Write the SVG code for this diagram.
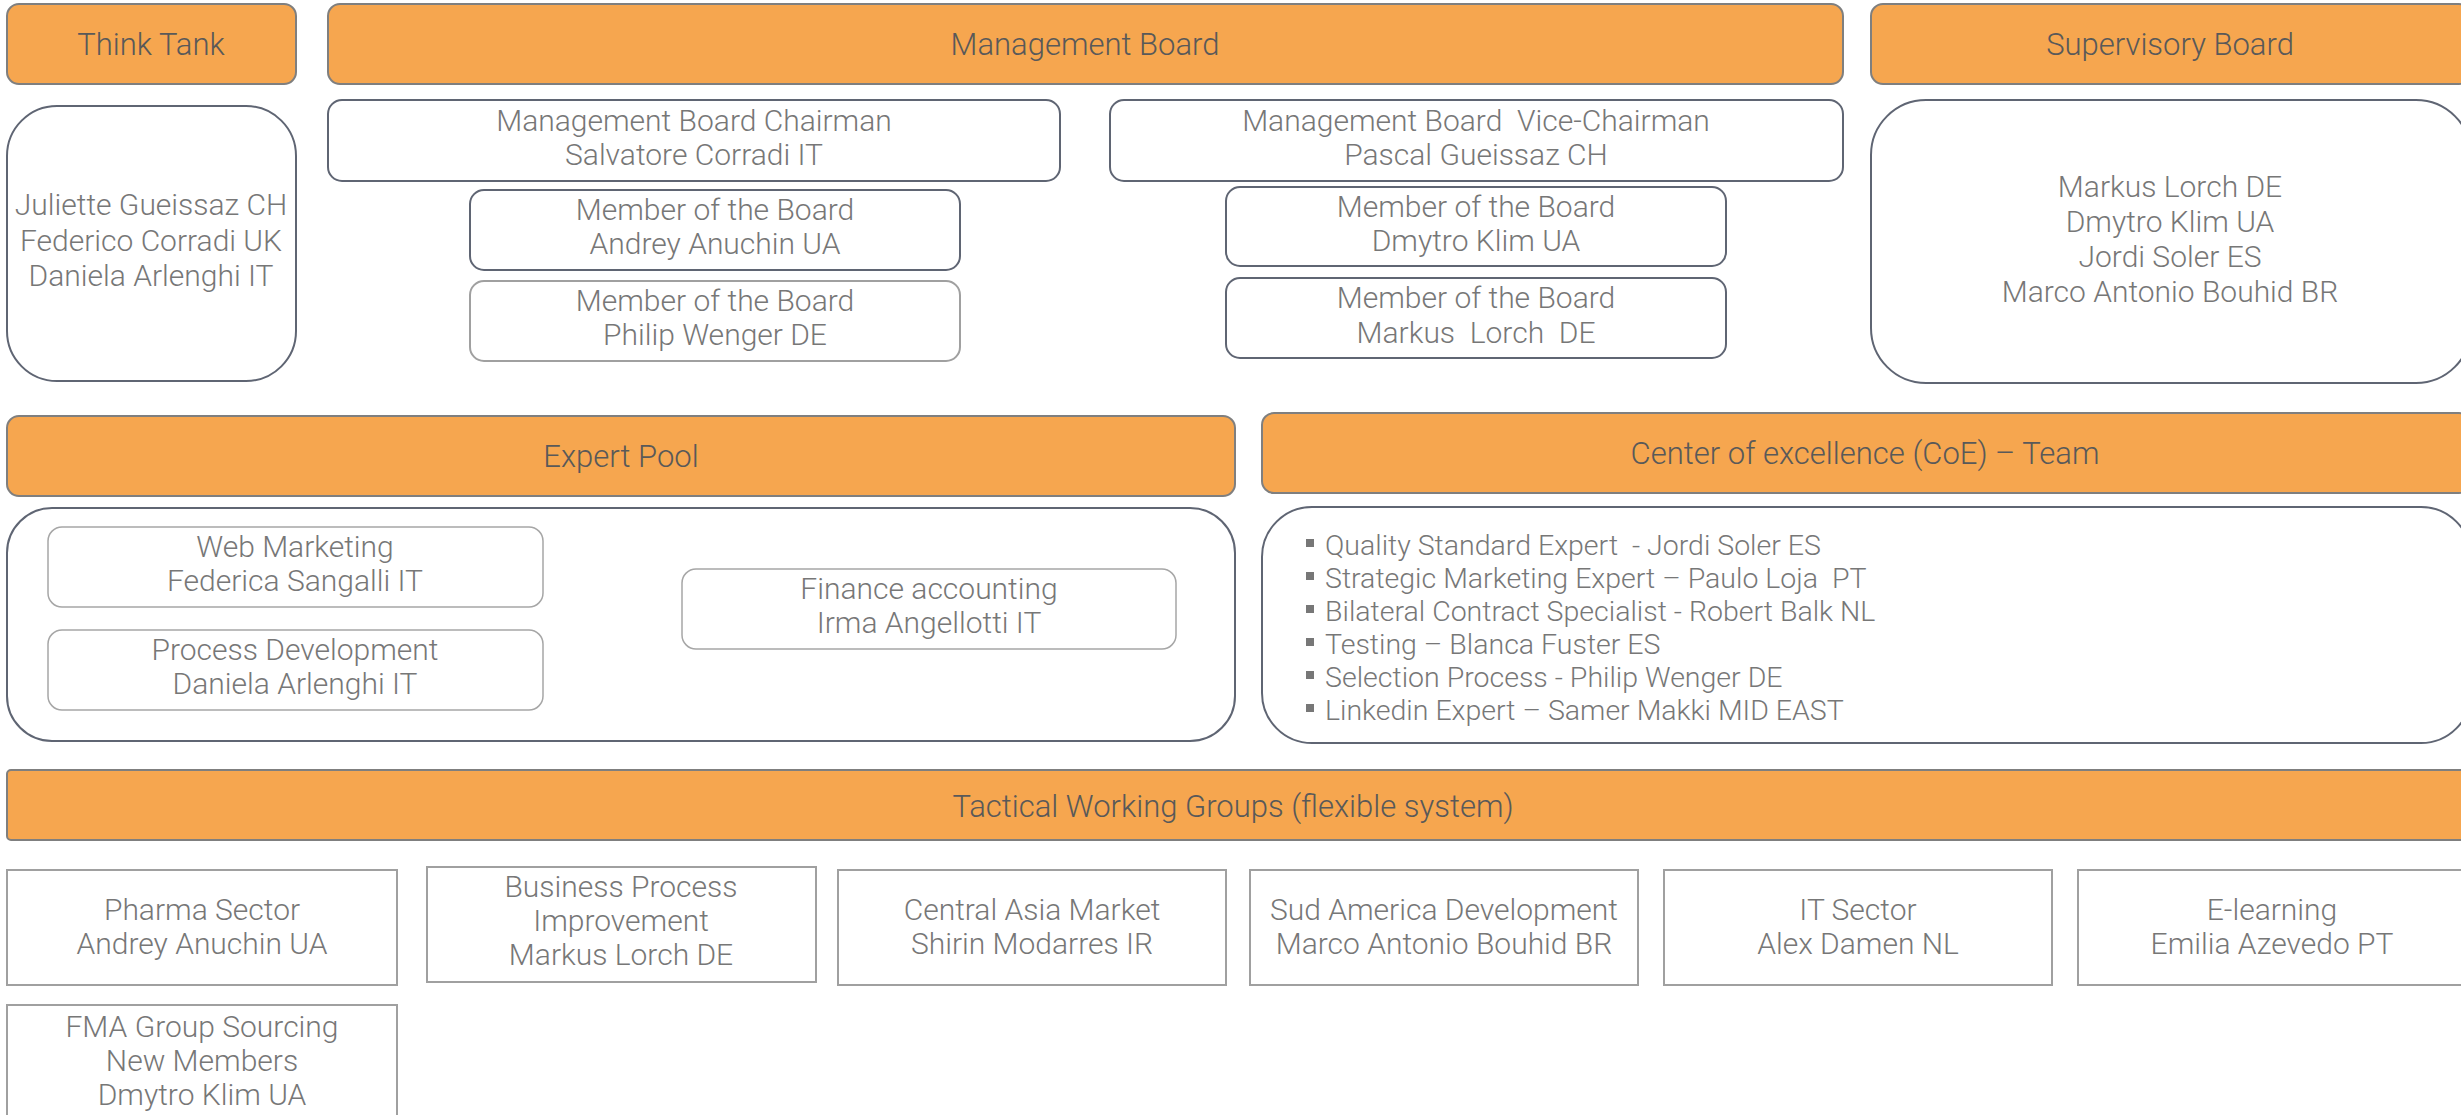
<svg xmlns="http://www.w3.org/2000/svg" width="2461" height="1115" viewBox="0 0 2461 1115">
<style>
.hdr{fill:#F6A64F;stroke:#7F7F7F;stroke-width:2}
.box{fill:#FFFFFF;stroke:#5F6573;stroke-width:2}
.lbox{fill:#FFFFFF;stroke:#A6A6A6;stroke-width:1.5}
.rbox{fill:#FFFFFF;stroke:#A0A0A0;stroke-width:2}
text{font-family:Roboto,"Liberation Sans",sans-serif;font-weight:300;text-anchor:middle;white-space:pre}
.ht{font-size:31px;fill:#595959}
.bt{font-size:30px;fill:#777777}
.bl{font-size:28.5px;fill:#777777;text-anchor:start}
.bul{fill:#777777}
</style>
<rect width="2461" height="1115" fill="#FFFFFF"/>
<g id="think-tank-header"><rect class="hdr" x="7" y="4" width="289" height="80" rx="12"/><text class="ht" x="151" y="55">Think Tank</text></g>
<g id="management-board-header"><rect class="hdr" x="328" y="4" width="1515" height="80" rx="12"/><text class="ht" x="1085" y="55">Management Board</text></g>
<g id="supervisory-board-header"><rect class="hdr" x="1871" y="4" width="600" height="80" rx="12"/><text class="ht" x="2170" y="55">Supervisory Board</text></g>
<g id="think-tank"><rect class="box" x="7" y="106" width="289" height="275" rx="50"/>
<text class="bt" x="151" y="215">Juliette Gueissaz CH</text>
<text class="bt" x="151" y="251">Federico Corradi UK</text>
<text class="bt" x="151" y="286">Daniela Arlenghi IT</text></g>
<g id="chairman"><rect class="box" x="328" y="100" width="732" height="81" rx="14"/>
<text class="bt" x="694" y="131">Management Board Chairman</text>
<text class="bt" x="694" y="165">Salvatore Corradi IT</text></g>
<g id="member-anuchin"><rect class="box" x="470" y="190" width="490" height="80" rx="14"/>
<text class="bt" x="715" y="220">Member of the Board</text>
<text class="bt" x="715" y="254">Andrey Anuchin UA</text></g>
<g id="member-wenger"><rect class="rbox" x="470" y="281" width="490" height="80" rx="14"/>
<text class="bt" x="715" y="311">Member of the Board</text>
<text class="bt" x="715" y="345">Philip Wenger DE</text></g>
<g id="vice-chairman"><rect class="box" x="1110" y="100" width="733" height="81" rx="14"/>
<text class="bt" x="1476" y="131" xml:space="preserve">Management Board  Vice-Chairman</text>
<text class="bt" x="1476" y="165">Pascal Gueissaz CH</text></g>
<g id="member-klim"><rect class="box" x="1226" y="187" width="500" height="79" rx="14"/>
<text class="bt" x="1476" y="217">Member of the Board</text>
<text class="bt" x="1476" y="251">Dmytro Klim UA</text></g>
<g id="member-lorch"><rect class="box" x="1226" y="278" width="500" height="80" rx="14"/>
<text class="bt" x="1476" y="308">Member of the Board</text>
<text class="bt" x="1476" y="343" xml:space="preserve">Markus  Lorch  DE</text></g>
<g id="supervisory-board"><rect class="box" x="1871" y="100" width="600" height="283" rx="55"/>
<text class="bt" x="2170" y="197">Markus Lorch DE</text>
<text class="bt" x="2170" y="232">Dmytro Klim UA</text>
<text class="bt" x="2170" y="267">Jordi Soler ES</text>
<text class="bt" x="2170" y="302">Marco Antonio Bouhid BR</text></g>
<g id="expert-pool-header"><rect class="hdr" x="7" y="416" width="1228" height="80" rx="12"/><text class="ht" x="621" y="467">Expert Pool</text></g>
<g id="coe-header"><rect class="hdr" x="1262" y="413" width="1209" height="80" rx="12"/><text class="ht" x="1865" y="464">Center of excellence (CoE) – Team</text></g>
<g id="expert-pool"><rect class="box" x="7" y="508" width="1228" height="233" rx="45"/>
<g id="web-marketing"><rect class="lbox" x="48" y="527" width="495" height="80" rx="14"/>
<text class="bt" x="295" y="557">Web Marketing</text>
<text class="bt" x="295" y="591">Federica Sangalli IT</text></g>
<g id="process-development"><rect class="lbox" x="48" y="630" width="495" height="80" rx="14"/>
<text class="bt" x="295" y="660">Process Development</text>
<text class="bt" x="295" y="694">Daniela Arlenghi IT</text></g>
<g id="finance-accounting"><rect class="lbox" x="682" y="569" width="494" height="80" rx="14"/>
<text class="bt" x="929" y="599">Finance accounting</text>
<text class="bt" x="929" y="633">Irma Angellotti IT</text></g></g>
<g id="coe-team"><rect class="box" x="1262" y="507" width="1209" height="236" rx="50"/>
<rect class="bul" x="1306" y="539" width="8" height="8"/><text class="bl" x="1325" y="555" xml:space="preserve">Quality Standard Expert  - Jordi Soler ES</text>
<rect class="bul" x="1306" y="572" width="8" height="8"/><text class="bl" x="1325" y="588" xml:space="preserve">Strategic Marketing Expert – Paulo Loja  PT</text>
<rect class="bul" x="1306" y="605" width="8" height="8"/><text class="bl" x="1325" y="621">Bilateral Contract Specialist - Robert Balk NL</text>
<rect class="bul" x="1306" y="638" width="8" height="8"/><text class="bl" x="1325" y="654">Testing – Blanca Fuster ES</text>
<rect class="bul" x="1306" y="671" width="8" height="8"/><text class="bl" x="1325" y="687">Selection Process - Philip Wenger DE</text>
<rect class="bul" x="1306" y="704" width="8" height="8"/><text class="bl" x="1325" y="720">Linkedin Expert – Samer Makki MID EAST</text></g>
<g id="tactical-header"><rect class="hdr" x="7" y="770" width="2464" height="70" rx="4"/><text class="ht" x="1233" y="817">Tactical Working Groups (flexible system)</text></g>
<g id="pharma"><rect class="rbox" x="7" y="870" width="390" height="115"/>
<text class="bt" x="202" y="920">Pharma Sector</text><text class="bt" x="202" y="954">Andrey Anuchin UA</text></g>
<g id="bpi"><rect class="rbox" x="427" y="867" width="389" height="115"/>
<text class="bt" x="621" y="897">Business Process</text><text class="bt" x="621" y="931">Improvement</text><text class="bt" x="621" y="965">Markus Lorch DE</text></g>
<g id="central-asia"><rect class="rbox" x="838" y="870" width="388" height="115"/>
<text class="bt" x="1032" y="920">Central Asia Market</text><text class="bt" x="1032" y="954">Shirin Modarres IR</text></g>
<g id="sud-america"><rect class="rbox" x="1250" y="870" width="388" height="115"/>
<text class="bt" x="1444" y="920">Sud America Development</text><text class="bt" x="1444" y="954">Marco Antonio Bouhid BR</text></g>
<g id="it-sector"><rect class="rbox" x="1664" y="870" width="388" height="115"/>
<text class="bt" x="1858" y="920">IT Sector</text><text class="bt" x="1858" y="954">Alex Damen NL</text></g>
<g id="e-learning"><rect class="rbox" x="2078" y="870" width="388" height="115"/>
<text class="bt" x="2272" y="920">E-learning</text><text class="bt" x="2272" y="954">Emilia Azevedo PT</text></g>
<g id="fma"><rect class="rbox" x="7" y="1005" width="390" height="120"/>
<text class="bt" x="202" y="1037">FMA Group Sourcing</text><text class="bt" x="202" y="1071">New Members</text><text class="bt" x="202" y="1105">Dmytro Klim UA</text></g>
<g id="connectors"></g>
</svg>
